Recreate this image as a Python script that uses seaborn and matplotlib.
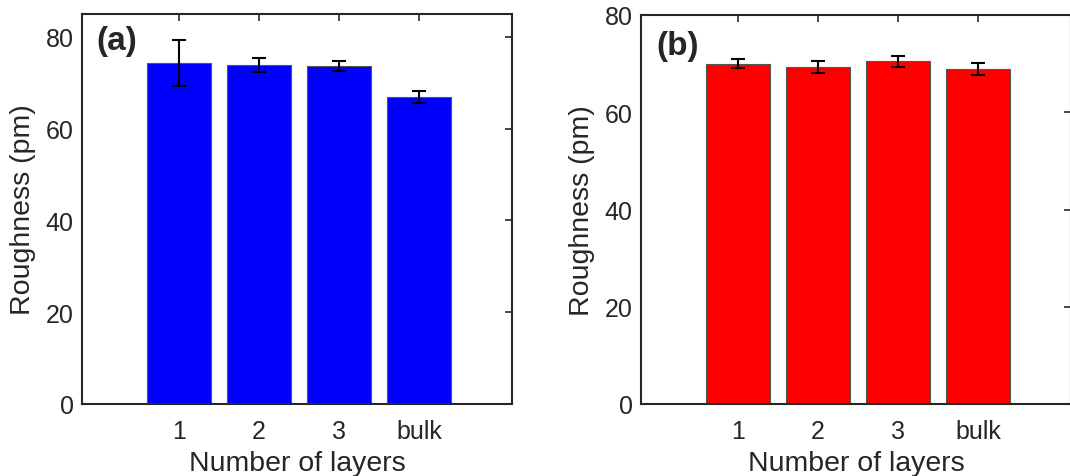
import seaborn as sns
import matplotlib.pyplot as plt
import pandas as pd

# data
layers = ["1", "2", "3", "bulk"]
rough_a = [74.3, 73.9, 73.6, 66.9]
err_a = [5.0, 1.6, 1.1, 1.3]
rough_b = [70.0, 69.3, 70.5, 68.9]
err_b = [1.0, 1.3, 1.1, 1.2]

sns.set_style("white")
plt.rcParams['font.family'] = ['Liberation Sans', 'DejaVu Sans']

fig = plt.figure(figsize=(10.7, 4.77), dpi=100)
ax_a = fig.add_axes([82 / 1070, 72 / 477, 430 / 1070, 390 / 477])
ax_b = fig.add_axes([641 / 1070, 72 / 477, 430 / 1070, 389 / 477])


def draw_panel(ax, vals, errs, color, label, ymax, lab_xy):
    df = pd.DataFrame({"layers": layers, "roughness": vals})
    sns.barplot(data=df, x="layers", y="roughness", color=color, width=0.8,
                edgecolor="#555555", linewidth=0.8, saturation=1,
                errorbar=None, ax=ax)
    ax.errorbar(range(len(layers)), vals, yerr=errs, fmt="none",
                ecolor="black", elinewidth=1.5, capsize=5, capthick=1.5)
    ax.set_xlim(-1.21, 4.16)
    ax.set_ylim(0, ymax)
    ax.set_yticks([0, 20, 40, 60, 80])
    ax.set_xlabel("Number of layers", fontsize=20.5, labelpad=5)
    ax.set_ylabel("Roughness (pm)", fontsize=20.5, labelpad=7)
    ax.tick_params(axis="both", direction="in", length=5, width=1.2,
                   labelsize=18, top=True, right=True, color="#262626",
                   labelcolor="#262626")
    ax.tick_params(axis="x", pad=11)
    ax.tick_params(axis="y", pad=6)
    for sp in ax.spines.values():
        sp.set_visible(True)
        sp.set_color("#262626")
        sp.set_linewidth(1.5)
    ax.text(lab_xy[0], lab_xy[1], label, transform=ax.transAxes, fontsize=24,
            fontweight="bold", va="top", ha="left")


draw_panel(ax_a, rough_a, err_a, "#0000ff", "(a)", 85, (0.033, 0.972))
draw_panel(ax_b, rough_b, err_b, "#ff0000", "(b)", 80, (0.035, 0.962))

fig.savefig("out.png", dpi=100)
